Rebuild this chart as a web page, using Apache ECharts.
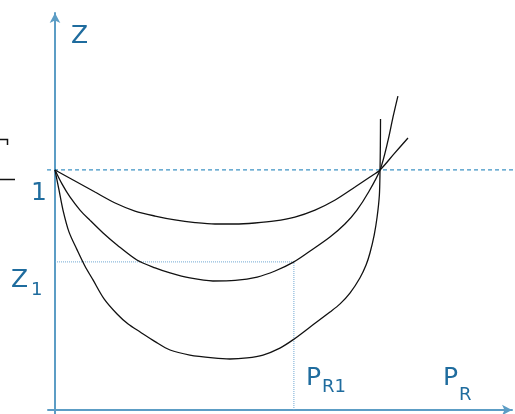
<!DOCTYPE html>
<html>
<head>
<meta charset="utf-8">
<style>
  html, body { margin: 0; padding: 0; background: #fff; }
  #chart { width: 515px; height: 414px; }
</style>
<script src="https://cdn.jsdelivr.net/npm/echarts@6/dist/echarts.min.js"></script>
</head>
<body>
<div id="chart"></div>
<script>
// Axis extents (P_R horizontally, Z vertically)
const X_MIN = -0.0215, X_MAX = 1.406;
const Y_MIN = -0.0167, Y_MAX = 1.654;

// Reference level Z = 1 and the marked operating point (P_R1, Z1)
const Z_REF = 1;
const PR1 = 0.735;
const Z1 = 0.617;

// Upper curve
const curveA = [
  [0, 1], [0.0615, 0.954], [0.123, 0.908], [0.185, 0.8625], [0.246, 0.829],
  [0.308, 0.808], [0.369, 0.792], [0.431, 0.781], [0.492, 0.775], [0.554, 0.775],
  [0.615, 0.779], [0.677, 0.7875], [0.738, 0.804], [0.8, 0.833], [0.862, 0.875],
  [0.923, 0.929], [0.969, 0.971], [1.0, 1.0], [1.043, 1.067], [1.086, 1.133]
];
// Middle curve (passes through the operating point)
const curveB = [
  [0, 1], [0.0215, 0.942], [0.046, 0.8875], [0.077, 0.833], [0.108, 0.79],
  [0.148, 0.7375], [0.191, 0.6875], [0.252, 0.625], [0.308, 0.592], [0.354, 0.571],
  [0.415, 0.55], [0.486, 0.5375], [0.554, 0.54], [0.622, 0.554], [0.677, 0.579],
  [0.735, 0.617], [0.785, 0.6625], [0.846, 0.721], [0.892, 0.775], [0.929, 0.833],
  [0.963, 0.904], [1.0, 1.0], [1.025, 1.125], [1.040, 1.221], [1.055, 1.308]
];
// Lower curve
const curveC = [
  [0, 1], [0.0123, 0.917], [0.0246, 0.833], [0.043, 0.742], [0.068, 0.667],
  [0.092, 0.6], [0.117, 0.542], [0.151, 0.463], [0.191, 0.4], [0.225, 0.358],
  [0.262, 0.325], [0.308, 0.285], [0.354, 0.25], [0.415, 0.229], [0.486, 0.217],
  [0.538, 0.2125], [0.591, 0.217], [0.64, 0.229], [0.692, 0.258], [0.732, 0.292],
  [0.785, 0.346], [0.846, 0.408], [0.877, 0.442], [0.908, 0.488], [0.938, 0.55],
  [0.957, 0.604], [0.969, 0.654], [0.982, 0.729], [0.991, 0.804], [0.998, 0.896],
  [1.0, 1.0], [1.001, 1.104], [1.0015, 1.2125]
];

// Dashed reference line extent
const REF_X = [-0.046, 1.415];

const AXIS_BLUE = '#5c9dc5';
const TEXT_BLUE = '#1f6c9e';
const FONT = 'DejaVu Sans, Verdana, sans-serif';

const chart = echarts.init(document.getElementById('chart'));

function axisCommon(min, max) {
  return {
    type: 'value', min: min, max: max,
    axisLine: {
      show: true, onZero: true,
      symbol: ['none', 'arrow'], symbolSize: [8, 10],
      lineStyle: { color: AXIS_BLUE, width: 2 }
    },
    axisTick: { show: false },
    axisLabel: { show: false },
    splitLine: { show: false }
  };
}

function curve(data) {
  return {
    type: 'line', data: data, smooth: 0.3,
    showSymbol: false, silent: true,
    lineStyle: { color: '#111', width: 1.3 }, z: 3
  };
}

function txt(text, x, y, size) {
  return {
    type: 'text', x: x, y: y, silent: true,
    style: { text: text, font: size + 'px ' + FONT, fill: TEXT_BLUE, verticalAlign: 'middle' }
  };
}

chart.setOption({
  animation: false,
  grid: { left: 48, right: 3, top: 13, bottom: 0 },
  xAxis: axisCommon(X_MIN, X_MAX),
  yAxis: axisCommon(Y_MIN, Y_MAX),
  series: [
    {
      type: 'line', data: [[REF_X[0], Z_REF], [REF_X[1], Z_REF]],
      showSymbol: false, silent: true, clip: false,
      lineStyle: { color: '#3d92c4', width: 1.3, type: [4, 3] }, z: 2
    },
    {
      type: 'line', data: [[0, Z1], [PR1, Z1], [PR1, 0]],
      showSymbol: false, silent: true,
      lineStyle: { color: '#6fa8d2', width: 1, type: [1, 1] }, z: 2
    },
    curve(curveA),
    curve(curveB),
    curve(curveC)
  ],
  graphic: [
    txt('Z', 71, 36, 25),
    txt('1', 31, 193, 25),
    txt('Z', 11, 280, 25),
    txt('1', 31, 290, 18),
    txt('P', 306, 378, 25),
    txt('R1', 322, 387, 18),
    txt('P', 443, 378, 25),
    txt('R', 459, 395, 18),
    // cropped glyph strokes at the left margin
    { type: 'polyline', silent: true,
      shape: { points: [[0, 139.5], [7.5, 139.5], [7.5, 145]] },
      style: { stroke: '#111', lineWidth: 1.5, fill: null } },
    { type: 'line', silent: true,
      shape: { x1: 0, y1: 179.5, x2: 15, y2: 179.5 },
      style: { stroke: '#111', lineWidth: 1.5 } }
  ]
});
</script>
</body>
</html>
